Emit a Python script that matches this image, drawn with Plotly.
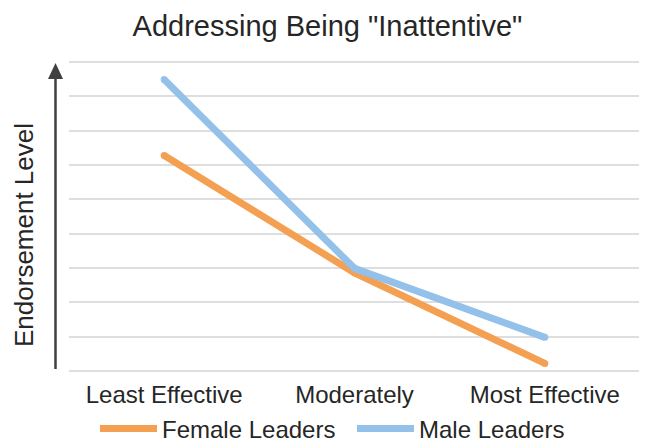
import plotly.graph_objects as go

categories = ["Least Effective", "Moderately", "Most Effective"]
female_leaders = [6.28, 2.86, 0.22]
male_leaders = [8.49, 2.99, 0.98]
series_names = ["Female Leaders", "Male Leaders"]
title_text = 'Addressing Being "Inattentive"'
y_title = "Endorsement Level"

ORANGE = "#F4A052"
BLUE = "#93C1E9"
FONT = "Liberation Sans, Arial, Helvetica, sans-serif"
TXT = "#262626"

fig = go.Figure()
for name, vals, col in [(series_names[0], female_leaders, ORANGE),
                        (series_names[1], male_leaders, BLUE)]:
    fig.add_trace(go.Scatter(x=categories, y=vals, mode="lines", name=name,
                             line=dict(color=col, width=7)))
    fig.add_trace(go.Scatter(x=categories, y=vals, mode="markers", showlegend=False,
                             marker=dict(color=col, size=7), hoverinfo="skip"))

# page body has an 8px margin; positions below are given in screenshot pixels
OFF = 8
W, H = 647 - OFF, 442 - OFF
PX0, PX1, PY0, PY1 = 69, 640, 61, 371  # plot area in screenshot pixels
L, R = PX0 - OFF, W - (PX1 - OFF)
T, B = PY0 - OFF, H - (PY1 - OFF)
pw, ph = PX1 - PX0, PY1 - PY0

def px(xs):
    return (xs - PX0) / pw

def py(ys):
    return (PY1 - ys) / ph

ax_x = px(55.5)
shapes = [
    dict(type="line", xref="paper", yref="paper", x0=ax_x, x1=ax_x,
         y0=py(369), y1=py(78), line=dict(color="#404040", width=2.5)),
    dict(type="path", xref="paper", yref="paper",
         path=f"M {px(48)},{py(79)} L {px(63)},{py(79)} L {ax_x},{py(63)} Z",
         fillcolor="#404040", line=dict(color="#404040", width=0)),
]

fig.update_layout(
    width=W, height=H,
    margin=dict(l=L, r=R, t=T, b=B, autoexpand=False),
    paper_bgcolor="white", plot_bgcolor="white",
    font=dict(family=FONT, color=TXT),
    title=dict(text=title_text, x=(327.5 - OFF) / W, xanchor="center",
               y=1 - (26 - OFF) / H, yanchor="middle",
               font=dict(size=29, color=TXT, family=FONT)),
    showlegend=True,
    legend=dict(orientation="h", xref="container", yref="container",
                x=(95 - OFF) / W, xanchor="left", y=1 - (429 - OFF) / H, yanchor="middle",
                font=dict(size=24, color=TXT, family=FONT), itemwidth=57,
                entrywidth=185, entrywidthmode="pixels",
                tracegroupgap=0, bgcolor="rgba(0,0,0,0)"),
    shapes=shapes,
    annotations=[dict(text=y_title, xref="paper", yref="paper", x=px(24), y=py(235),
                      xanchor="center", yanchor="middle", textangle=-90, showarrow=False,
                      font=dict(size=26, color=TXT, family=FONT))],
)
fig.update_xaxes(showgrid=False, showline=False, zeroline=False, ticks="", automargin=False,
                 ticklabelstandoff=7, tickfont=dict(size=24, color=TXT, family=FONT),
                 range=[-0.5, 2.5])
fig.update_yaxes(range=[0, 9.03], tickvals=list(range(10)), showgrid=True,
                 gridcolor="#DEDEDE", gridwidth=2, automargin=False,
                 zeroline=True, zerolinecolor="#DEDEDE", zerolinewidth=2,
                 showticklabels=False, ticks="", showline=False)

fig.write_html("out.html")
